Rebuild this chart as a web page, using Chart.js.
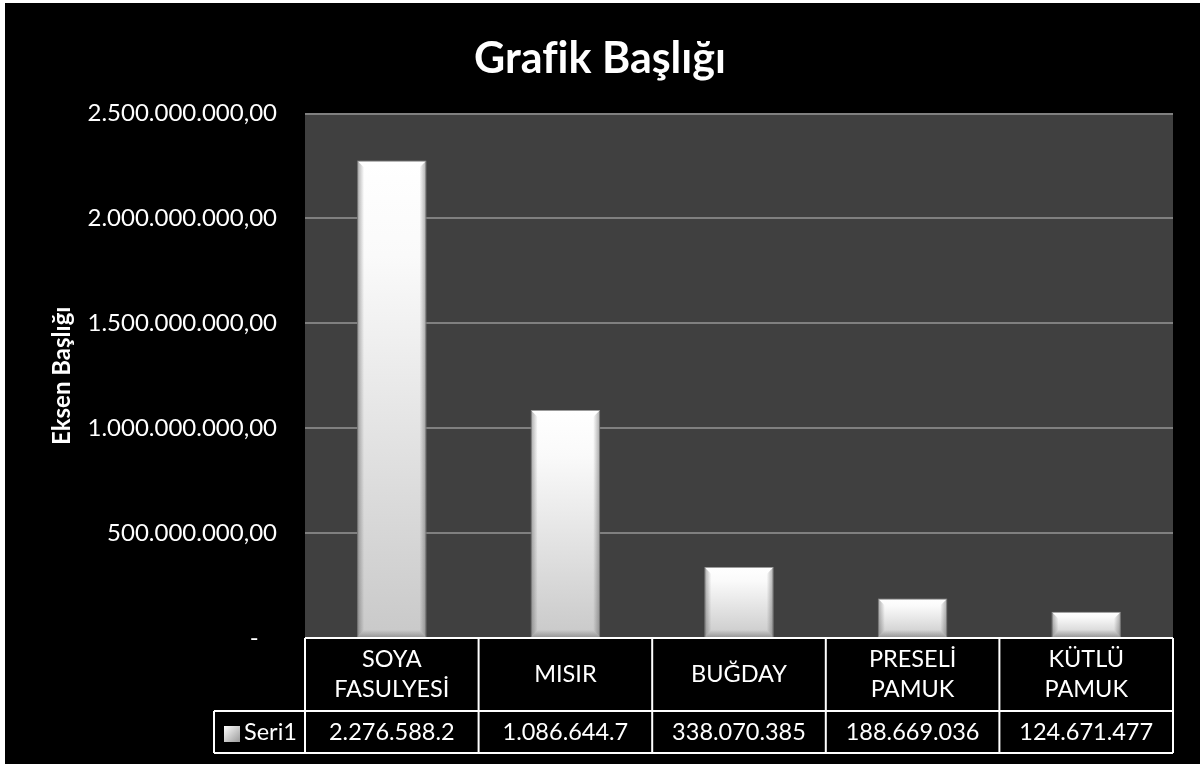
<!DOCTYPE html>
<html lang="tr">
<head>
<meta charset="utf-8">
<title>Grafik Başlığı</title>
<script src="https://cdn.jsdelivr.net/npm/chart.js@4/dist/chart.umd.min.js"></script>
<style>
  html, body { margin: 0; padding: 0; background: #000; }
  #wrap { width: 1200px; height: 764px; position: relative; }
</style>
</head>
<body>
<div id="wrap"><canvas id="grafik"></canvas></div>
<script>
// Ürün adları (tablo başlık satırı) ve Seri1 değerleri
const kategoriler = [['SOYA', 'FASULYESİ'], 'MISIR', 'BUĞDAY', ['PRESELİ', 'PAMUK'], ['KÜTLÜ', 'PAMUK']];
const seriAdi = 'Seri1';
const seri1 = [2276588200, 1086644700, 338070385, 188669036, 124671477];
const eksenMax = 2500000000;
const eksenAdim = 500000000;

const FONT = 'Lato, "Open Sans", sans-serif';

// 1234567 -> "1.234.567"
function noktali(n) {
    return String(Math.round(n)).replace(/\B(?=(\d{3})+(?!\d))/g, '.');
}

// Arka plan: siyah alan + koyu gri çizim alanı
const arkaPlan = {
    id: 'arkaPlan',
    beforeDraw(chart) {
        const { ctx, width, height, chartArea } = chart;
        ctx.save();
        ctx.fillStyle = '#ffffff';
        ctx.fillRect(0, 0, width, height);
        ctx.fillStyle = '#000000';
        ctx.fillRect(5, 3, width - 5, height - 3);
        ctx.fillStyle = '#404040';
        ctx.fillRect(chartArea.left, chartArea.top, chartArea.right - chartArea.left, chartArea.bottom - chartArea.top);
        ctx.restore();
    }
};

// Çubukların kenar eğimi (bevel)
const cubukKenar = {
    id: 'cubukKenar',
    afterDatasetsDraw(chart) {
        const { ctx } = chart;
        const meta = chart.getDatasetMeta(0);
        ctx.save();
        meta.data.forEach(bar => {
            const w = bar.width;
            const l = bar.x - w / 2, r = bar.x + w / 2;
            const t = bar.y, b = bar.base;
            const k = Math.min(7, (b - t) / 3);
            // sol
            let g = ctx.createLinearGradient(l, 0, l + k, 0);
            g.addColorStop(0, 'rgba(80,80,80,0.5)');
            g.addColorStop(1, 'rgba(80,80,80,0)');
            ctx.fillStyle = g;
            ctx.beginPath();
            ctx.moveTo(l, t); ctx.lineTo(l + k, t + k); ctx.lineTo(l + k, b - k); ctx.lineTo(l, b);
            ctx.closePath(); ctx.fill();
            // sağ
            g = ctx.createLinearGradient(r, 0, r - k, 0);
            g.addColorStop(0, 'rgba(80,80,80,0.5)');
            g.addColorStop(1, 'rgba(80,80,80,0)');
            ctx.fillStyle = g;
            ctx.beginPath();
            ctx.moveTo(r, t); ctx.lineTo(r - k, t + k); ctx.lineTo(r - k, b - k); ctx.lineTo(r, b);
            ctx.closePath(); ctx.fill();
            // alt
            g = ctx.createLinearGradient(0, b, 0, b - k);
            g.addColorStop(0, 'rgba(80,80,80,0.4)');
            g.addColorStop(1, 'rgba(80,80,80,0)');
            ctx.fillStyle = g;
            ctx.beginPath();
            ctx.moveTo(l, b); ctx.lineTo(l + k, b - k); ctx.lineTo(r - k, b - k); ctx.lineTo(r, b);
            ctx.closePath(); ctx.fill();
        });
        ctx.restore();
    }
};

// Veri tablosu: x ekseninin altında başlık ve değer satırları
const veriTablosu = {
    id: 'veriTablosu',
    afterDraw(chart) {
        const { ctx } = chart;
        const x = chart.scales.x;
        const n = chart.data.labels.length;
        const hucre = (x.right - x.left) / n;
        const ust = x.top;
        const orta = ust + 73;
        const alt = ust + 115;
        const seriSol = 214;

        ctx.save();
        ctx.strokeStyle = '#ffffff';
        ctx.lineWidth = 2;
        ctx.beginPath();
        ctx.moveTo(x.left, ust); ctx.lineTo(x.right, ust);
        ctx.moveTo(seriSol, orta); ctx.lineTo(x.right, orta);
        ctx.moveTo(seriSol, alt); ctx.lineTo(x.right, alt);
        ctx.moveTo(seriSol, orta); ctx.lineTo(seriSol, alt);
        for (let i = 0; i <= n; i++) {
            const px = i === n ? x.right : x.getPixelForValue(i) - hucre / 2;
            ctx.moveTo(px, ust); ctx.lineTo(px, alt);
        }
        ctx.stroke();

        ctx.fillStyle = '#ffffff';
        ctx.font = '23.5px ' + FONT;
        ctx.textAlign = 'center';
        ctx.textBaseline = 'middle';
        chart.data.labels.forEach((lbl, i) => {
            const cx = x.getPixelForValue(i);
            const satirlar = Array.isArray(lbl) ? lbl : [lbl];
            const satirY = 30;
            const y0 = (ust + orta) / 2 - (satirlar.length - 1) * satirY / 2;
            satirlar.forEach((s, j) => ctx.fillText(s, cx, y0 + j * satirY));
            const v = chart.data.datasets[0].data[i];
            ctx.fillText(noktali(v).slice(0, 11), cx, (orta + alt) / 2);
        });

        // seri anahtarı
        const kx = 224, ky = 726, ks = 16;
        const g = ctx.createLinearGradient(kx, ky, kx + ks, ky + ks);
        g.addColorStop(0, '#ffffff');
        g.addColorStop(1, '#9a9a9a');
        ctx.fillStyle = g;
        ctx.fillRect(kx, ky, ks, ks);
        ctx.fillStyle = '#ffffff';
        ctx.textAlign = 'left';
        ctx.fillText(seriAdi, 244, (orta + alt) / 2);
        ctx.restore();
    }
};

const ctx = document.getElementById('grafik');

new Chart(ctx, {
    type: 'bar',
    data: {
        labels: kategoriler,
        datasets: [{
            label: seriAdi,
            data: seri1,
            backgroundColor(c) {
                const chart = c.chart;
                const y = chart.scales.y;
                if (!y || c.raw == null) return '#eeeeee';
                const top = y.getPixelForValue(c.raw);
                const base = y.getPixelForValue(0);
                if (!isFinite(top) || !isFinite(base) || top === base) return '#eeeeee';
                const g = chart.ctx.createLinearGradient(0, top, 0, base);
                g.addColorStop(0, '#ffffff');
                g.addColorStop(0.2, '#fafafa');
                g.addColorStop(1, '#c9c9c9');
                return g;
            },
            borderColor: '#9c9c9c',
            borderWidth: 1,
            barPercentage: 0.4,
            categoryPercentage: 1
        }]
    },
    options: {
        responsive: true,
        maintainAspectRatio: false,
        animation: false,
        layout: { padding: { left: 27, right: 27, top: 0, bottom: 0 } },
        plugins: {
            legend: { display: false },
            tooltip: { enabled: false },
            title: {
                display: true,
                text: 'Grafik Başlığı',
                color: '#ffffff',
                font: { family: FONT, size: 43, weight: 'bold', lineHeight: 1.2 },
                padding: { top: 33, bottom: 29 }
            }
        },
        scales: {
            x: {
                ticks: { display: false },
                grid: { display: false },
                border: { display: false },
                afterFit(scale) { scale.height = 126; }
            },
            y: {
                min: 0,
                max: eksenMax,
                ticks: {
                    stepSize: eksenAdim,
                    color: '#ffffff',
                    font: { family: FONT, size: 24 },
                    padding: 28,
                    callback: v => v === 0 ? '-   ' : noktali(v) + ',00'
                },
                grid: { color: '#808080', lineWidth: 2, drawTicks: false },
                border: { display: false },
                title: {
                    display: true,
                    text: 'Eksen Başlığı',
                    color: '#ffffff',
                    font: { family: FONT, size: 24, weight: 'bold', lineHeight: 1.2 },
                    padding: { top: 21, bottom: 0 }
                },
                afterFit(scale) { scale.width = 278; }
            }
        }
    },
    plugins: [arkaPlan, cubukKenar, veriTablosu]
});
</script>
</body>
</html>
